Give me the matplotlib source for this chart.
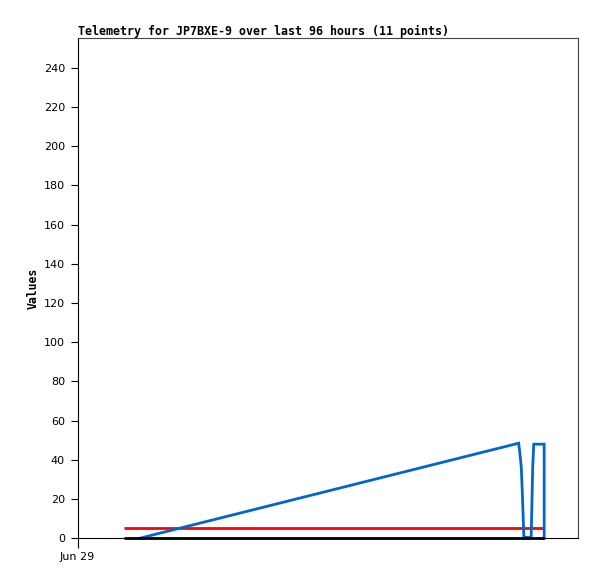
import numpy as np
import matplotlib
matplotlib.use("Agg")
import matplotlib.pyplot as plt

# hours since start of window (window = 96 h, starting Jun 29)
blue_t = [11.9, 84.7, 84.9, 85.2, 85.4, 85.6, 85.7, 87.1, 87.2, 87.4, 87.6, 89.6, 89.6]
blue_v = [0, 48.5, 44.3, 36.4, 23.8, 8.3, 0.5, 0.5, 11.7, 36.4, 48, 48, 0]
red_t = [9.0, 89.6]
red_v = [5, 5]
black_t = [9.0, 89.6]
black_v = [0, 0]

title = "Telemetry for JP7BXE-9 over last 96 hours (11 points)"
yticks = np.arange(0, 241, 20)

fig = plt.figure(figsize=(5.97, 5.79), dpi=100)
ax = fig.add_axes([77.5 / 597, 1 - 538.3 / 579, 500 / 597, 500 / 579])

ax.plot(black_t, black_v, color="black", lw=2, solid_capstyle="butt", clip_on=False, zorder=3)
ax.plot(red_t, red_v, color="#ff0000", lw=2, solid_capstyle="butt")
ax.plot(blue_t, blue_v, color="#0066cc", lw=2, solid_joinstyle="miter", clip_on=False)

ax.set_xlim(0, 96)
ax.set_ylim(0, 255)
ax.set_yticks(yticks)
ax.set_xticks([0])
ax.set_xticklabels(["Jun 29"])
ax.tick_params(axis="y", direction="out", length=5, labelsize=8, pad=4)
ax.tick_params(axis="x", direction="out", length=7, labelsize=8, pad=3)

for s in ["left", "bottom"]:
    ax.spines[s].set_color("black")
for s in ["top", "right"]:
    ax.spines[s].set_color("#444444")

ax.set_ylabel("Values", family="DejaVu Sans Mono", fontweight="bold", fontsize=8.3, labelpad=3)
ax.set_title(title, family="DejaVu Sans Mono", fontweight="bold", fontsize=8.4, loc="left", pad=2)

fig.savefig("out.png", dpi=100)
